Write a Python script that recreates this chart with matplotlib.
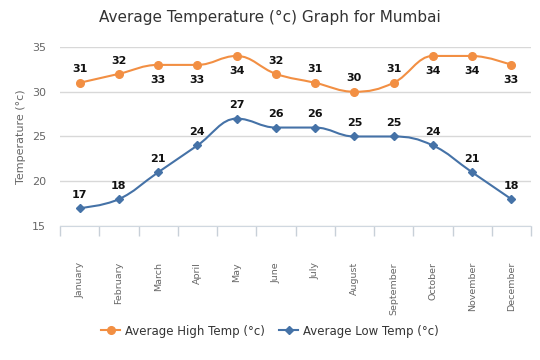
import matplotlib
matplotlib.use("Agg")
import matplotlib.pyplot as plt
from matplotlib.path import Path
from matplotlib.patches import PathPatch
from matplotlib.lines import Line2D
import numpy as np

months = ["January", "February", "March", "April", "May", "June", "July",
          "August", "September", "October", "November", "December"]
high_temp = [31, 32, 33, 33, 34, 32, 31, 30, 31, 34, 34, 33]
low_temp = [17, 18, 21, 24, 27, 26, 26, 25, 25, 24, 21, 18]
y_ticks = [15, 20, 25, 30, 35]

ORANGE = "#F28F43"
BLUE = "#4572A7"

plt.rcParams['font.family'] = ['DejaVu Sans']

fig = plt.figure(figsize=(5.4, 3.6), dpi=100)
ax = fig.add_axes([60 / 540, 1 - 226 / 360, 471 / 540, (226 - 47) / 360])

def spline_path(xs, ys, sx, sy):
    # Highcharts-style spline in pixel-like scaled space
    X = np.array(xs, float) * sx
    Y = np.array(ys, float) * sy
    n = len(X)
    verts = [(X[0], Y[0])]
    codes = [Path.MOVETO]
    conts = []
    sm, den = 1.5, 2.5
    for i in range(n):
        if i == 0 or i == n - 1:
            conts.append(None)
            continue
        lx, ly = X[i - 1], Y[i - 1]
        nx, ny = X[i + 1], Y[i + 1]
        px, py = X[i], Y[i]
        lcx = (sm * px + lx) / den
        lcy = (sm * py + ly) / den
        rcx = (sm * px + nx) / den
        rcy = (sm * py + ny) / den
        if rcx != lcx:
            corr = ((rcy - lcy) * (rcx - px)) / (rcx - lcx) + py - rcy
            lcy += corr
            rcy += corr
        if lcy > max(ly, py):
            lcy = max(ly, py); rcy = 2 * py - lcy
        elif lcy < min(ly, py):
            lcy = min(ly, py); rcy = 2 * py - lcy
        if rcy > max(ny, py):
            rcy = max(ny, py); lcy = 2 * py - rcy
        elif rcy < min(ny, py):
            rcy = min(ny, py); lcy = 2 * py - rcy
        conts.append(((lcx, lcy), (rcx, rcy)))
    for i in range(1, n):
        c1 = conts[i - 1][1] if conts[i - 1] else (X[i - 1], Y[i - 1])
        c2 = conts[i][0] if conts[i] else (X[i], Y[i])
        verts += [c1, c2, (X[i], Y[i])]
        codes += [Path.CURVE4] * 3
    verts = [(vx / sx, vy / sy) for vx, vy in verts]
    return Path(verts, codes)

x = np.arange(len(months))
sx, sy = 39.25, 8.95

for data, color, marker, ms in [(high_temp, ORANGE, 'o', 5.5), (low_temp, BLUE, 'D', 4)]:
    p = spline_path(x, data, sx, sy)
    ax.add_patch(PathPatch(p, facecolor='none', edgecolor=color, lw=1.5, zorder=3))
    ax.plot(x, data, linestyle='none', marker=marker, color=color, ms=ms, zorder=4)

for xi, v in zip(x, high_temp):
    if v >= 33:
        ax.annotate(str(v), (xi, v), xytext=(0, -7), textcoords='offset points',
                    ha='center', va='top', fontsize=8, fontweight='bold', color='#111111')
    else:
        ax.annotate(str(v), (xi, v), xytext=(0, 6), textcoords='offset points',
                    ha='center', va='bottom', fontsize=8, fontweight='bold', color='#111111')
for xi, v in zip(x, low_temp):
    ax.annotate(str(v), (xi, v), xytext=(0, 6), textcoords='offset points',
                ha='center', va='bottom', fontsize=8, fontweight='bold', color='#111111')

ax.set_xlim(-0.5, 11.5)
ax.set_ylim(15, 35)
ax.set_yticks(y_ticks)
ax.set_yticklabels([str(t) for t in y_ticks])
ax.grid(axis='y', color='#D8D8D8', lw=1)
ax.set_axisbelow(True)
for s in ['top', 'right', 'left']:
    ax.spines[s].set_visible(False)
ax.spines['bottom'].set_color('#D0D8E0')
ax.tick_params(axis='y', length=0, labelsize=8, labelcolor='#666666', pad=10)

ax.set_xticks(x)
ax.set_xticklabels(months, rotation=90, fontsize=6.8, color='#666666')
ax.tick_params(axis='x', length=0, pad=26)
ax.set_xticks(np.arange(-0.5, 12.0, 1.0), minor=True)
ax.tick_params(axis='x', which='minor', length=7, color='#C8D0D8', width=1)

ax.set_ylabel("Temperature (°c)", fontsize=8, color='#666666', labelpad=4)

fig.text(0.5, 1 - 17 / 360, "Average Temperature (°c) Graph for Mumbai",
         ha='center', va='center', fontsize=11, color='#333333')

handles = [Line2D([], [], color=ORANGE, marker='o', ms=5.5, lw=1.5),
           Line2D([], [], color=BLUE, marker='D', ms=4, lw=1.5)]
fig.legend(handles, ["Average High Temp (°c)", "Average Low Temp (°c)"],
           loc='center', bbox_to_anchor=(0.5, 1 - 331 / 360), ncol=2, frameon=False,
           fontsize=8.5, handlelength=1.6, handletextpad=0.4, columnspacing=1.2,
           labelcolor='#333333')

fig.savefig("out.png", dpi=100)
